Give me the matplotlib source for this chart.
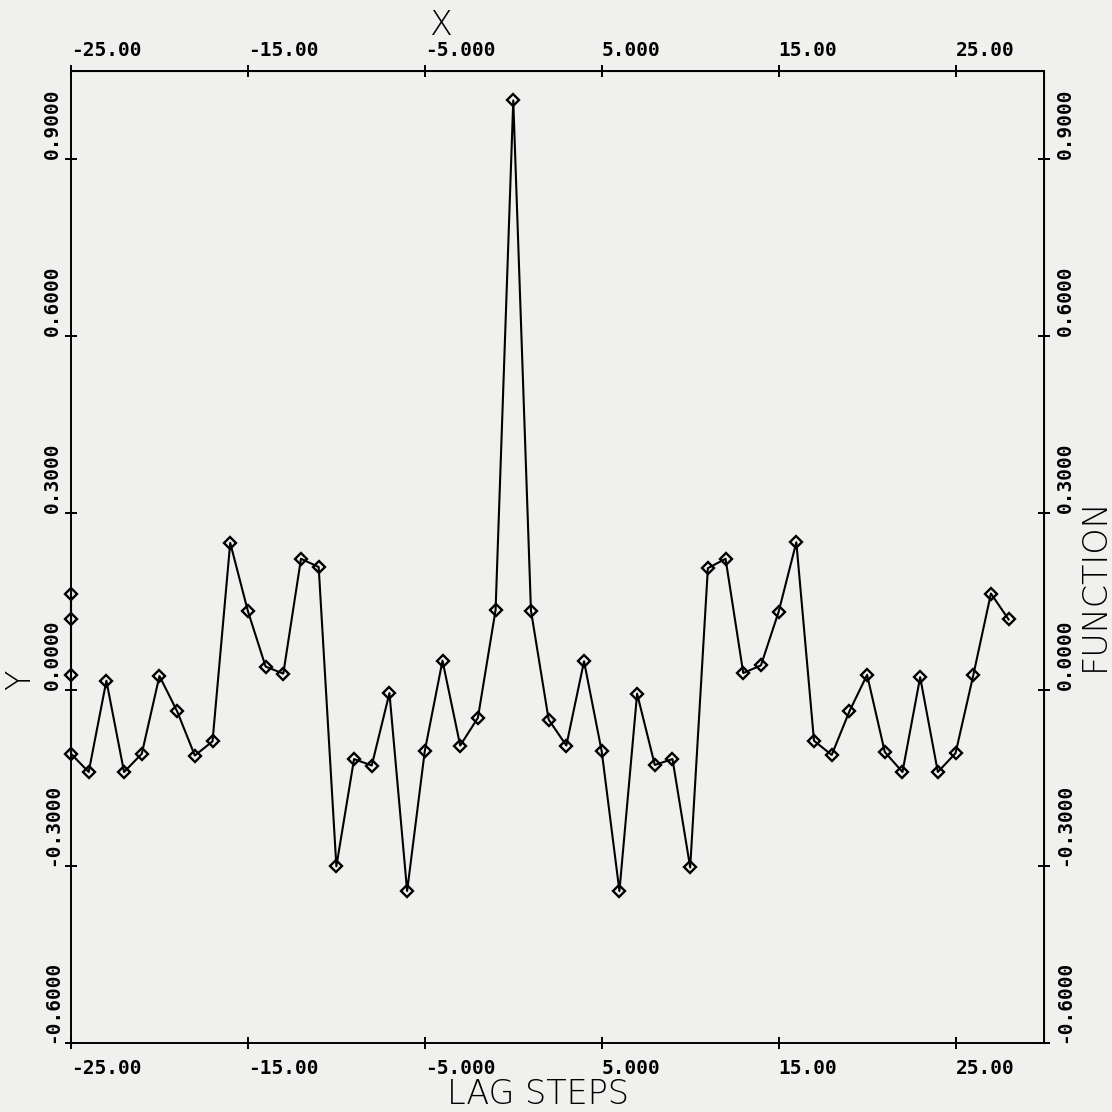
import numpy as np
import matplotlib.pyplot as plt

# autocorrelation vs lag
lags = list(range(-28, 29))
acf = [0.120, 0.163, 0.024, -0.109, -0.140, 0.015, -0.140, -0.109, 0.023, -0.037,
       -0.112, -0.088, 0.249, 0.133, 0.039, 0.027, 0.222, 0.208, -0.300, -0.118,
       -0.129, -0.006, -0.342, -0.104, 0.049, -0.095, -0.048, 0.135,
       1.000,
       0.134, -0.051, -0.095, 0.048, -0.105, -0.342, -0.007, -0.128, -0.118, -0.302,
       0.206, 0.222, 0.028, 0.041, 0.132, 0.250, -0.087, -0.111, -0.037, 0.025,
       -0.106, -0.140, 0.021, -0.140, -0.108, 0.024, 0.163, 0.119]

x_range = (-25, 30)
y_range = (-0.6, 1.05)
xticks = [-25, -15, -5, 5, 15, 25]
xtick_labels = ["-25.00", "-15.00", "-5.000", "5.000", "15.00", "25.00"]
yticks = [-0.6, -0.3, 0.0, 0.3, 0.6, 0.9]
ytick_labels = ["-0.6000", "-0.3000", "0.0000", "0.3000", "0.6000", "0.9000"]

plt.rcParams["font.family"] = "DejaVu Sans Mono"
plt.rcParams["font.weight"] = "bold"
paper = "#f0f0ee"

fig = plt.figure(figsize=(11.12, 11.12), dpi=100, facecolor=paper)
ax = fig.add_axes([71 / 1112, 69 / 1112, 973 / 1112, 972 / 1112], facecolor=paper)

# the old plotter pins points outside the x range onto the frame
ax.plot(np.clip(lags, *x_range), acf, color="black", lw=1.5,
        marker="D", ms=6.5, mfc="none", mec="black", mew=1.7, clip_on=False)

ax.set_xlim(*x_range)
ax.set_ylim(*y_range)
for s in ax.spines.values():
    s.set_linewidth(1.4)

# bottom / left ticks
ax.set_xticks(xticks, xtick_labels)
ax.set_yticks(yticks, ytick_labels)
ax.tick_params(axis="x", direction="inout", length=8.6, width=1.4, pad=7.5, labelsize=14)
ax.tick_params(axis="y", direction="inout", length=8.6, width=1.4, pad=2.4, labelsize=14,
               labelrotation=90)
for lbl in ax.get_xticklabels():
    lbl.set_ha("left")
for lbl in ax.get_yticklabels():
    lbl.set_va("bottom")

# top / right ticks
top = ax.secondary_xaxis("top")
top.set_xticks(xticks, xtick_labels)
top.tick_params(direction="inout", length=8.6, width=1.4, pad=3.6, labelsize=14)
for lbl in top.get_xticklabels():
    lbl.set_ha("left")
right = ax.secondary_yaxis("right")
right.set_yticks(yticks, ytick_labels)
right.tick_params(direction="inout", length=8.6, width=1.4, pad=4, labelsize=14,
                  labelrotation=90)
for lbl in right.get_yticklabels():
    lbl.set_va("bottom")

# axis titles
lab = dict(family="DejaVu Sans", weight="light", size=24, color="black")
fig.text(440 / 1112, 1 - 35 / 1112, "X", ha="center", va="baseline", **lab)
fig.text(538 / 1112, 1 - 1104 / 1112, "LAG STEPS", ha="center", va="baseline", **lab)
fig.text(21 / 1112, 1 - 680 / 1112, "Y", rotation=90, ha="center", va="center", **lab)
fig.text(1094 / 1112, 1 - 584 / 1112, "FUNCTION", rotation=90, ha="center", va="center", **lab)

fig.savefig("out.png", dpi=100, facecolor=paper)
